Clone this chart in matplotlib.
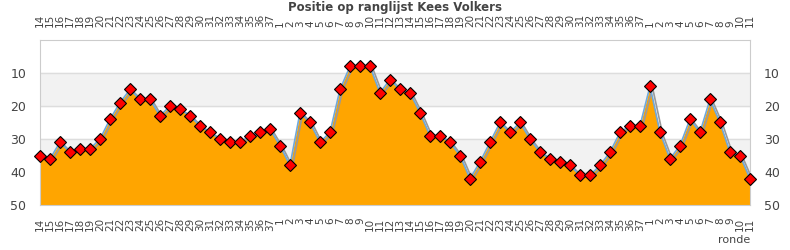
import numpy as np
import matplotlib.pyplot as plt

rondes = [str(r) for r in range(14, 38)] + [str(r) for r in range(1, 38)] + [str(r) for r in range(1, 12)]
positie = [35, 36, 31, 34, 33, 33, 30, 24, 19, 15, 18, 18, 23, 20, 21, 23, 26, 28, 30, 31, 31, 29, 28, 27,
           32, 38, 22, 25, 31, 28, 15, 8, 8, 8, 16, 12, 15, 16, 22, 29, 29, 31, 35, 42, 37, 31, 25, 28, 25,
           30, 34, 36, 37, 38, 41, 41, 38, 34, 28, 26, 26,
           14, 28, 36, 32, 24, 28, 18, 25, 34, 35, 42]

x = np.arange(len(positie))

fig = plt.figure(figsize=(7.9, 2.5), dpi=100)
ax = fig.add_axes([40 / 790, 45 / 250, 710 / 790, 165 / 250])

ax.axhspan(10, 20, color='#f2f2f2', zorder=0)
ax.axhspan(30, 40, color='#f2f2f2', zorder=0)
for y in [10, 20, 30, 40]:
    ax.axhline(y, color='#dddddd', lw=1, zorder=1)

ax.fill_between(x, positie, 50, color='#ffa500', zorder=2, lw=0)
ax.plot(x + 0.25, np.array(positie) + 0.4, color='#999999', lw=1.2, zorder=2.5)
ax.plot(x, positie, color='#6fa8dc', lw=1.2, zorder=3)
ax.plot(x, positie, ls='none', marker='D', ms=6.5, mfc='#ff0000', mec='black', mew=0.8,
        zorder=4, clip_on=False)

ax.set_xlim(0, len(positie) - 1)
ax.set_ylim(50, 0)
ax.set_yticks([10, 20, 30, 40, 50])
ax.set_xticks(x)
ax.set_xticklabels(rondes, rotation=90, fontsize=7.5, color='#444444')
ax.tick_params(axis='x', length=0, pad=9, top=True, labeltop=True)
ax.tick_params(axis='y', length=0, pad=10, labelsize=9, labelcolor='#444444', right=True, labelright=True)
for s in ax.spines.values():
    s.set_color('#cccccc')

fig.text(0.5, 0.998, 'Positie op ranglijst Kees Volkers', ha='center', va='top',
         fontsize=8.5, fontweight='bold', color='#444444')
fig.text(750 / 790, 0.02, 'ronde', ha='right', va='bottom', fontsize=8, color='#444444')

fig.savefig('out.png', dpi=100)
